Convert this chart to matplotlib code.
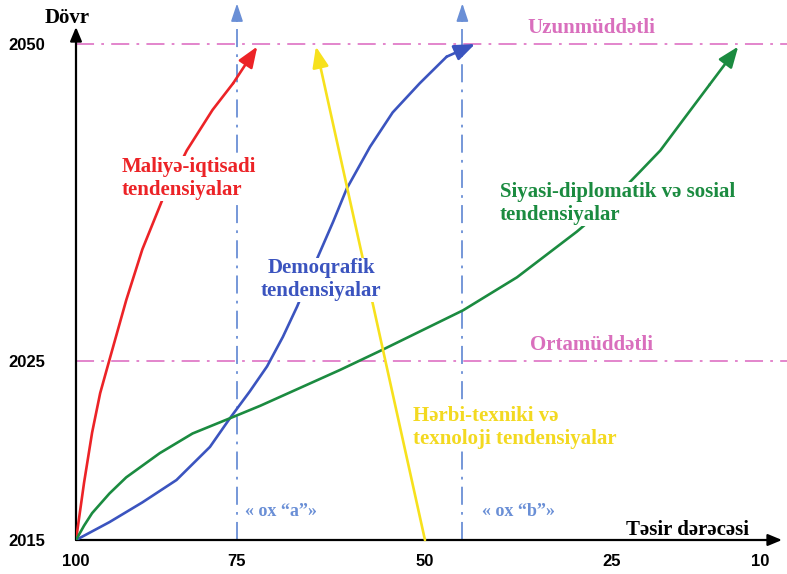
import numpy as np
import matplotlib
matplotlib.use("Agg")
import matplotlib.pyplot as plt

# --- data ---
x_ticks = [100, 75, 50, 25, 10]
y_ticks = [2015, 2025, 2050]

red_x = [100, 98.75, 97.5, 96.25, 94.8, 92.2, 89.7, 86.6, 82.8, 78.8, 75.6, 72.3]
red_y = [2015, 2018.2, 2021.0, 2023.2, 2025.1, 2029.8, 2033.8, 2037.7, 2041.6, 2044.8,
         2046.9, 2049.8]

blue_x = [100, 94.8, 89.7, 84.4, 79.2, 76.1, 73.3, 71.0, 68.9, 67.0, 64.4, 62.2, 60.4,
          57.3, 54.3, 50.7, 47.1, 43.3]
blue_y = [2015, 2016.0, 2017.1, 2018.35, 2020.2, 2021.8, 2023.3, 2024.7, 2026.9, 2029.3,
          2033.0, 2036.0, 2038.6, 2041.9, 2044.6, 2046.9, 2049.0, 2050]

green_x = [100, 98.75, 97.5, 94.8, 92.2, 87.0, 81.9, 76.1, 71.9, 66.6, 61.3, 55.6, 44.9,
           37.7, 29.7, 26.6, 24.2, 22.2, 20.1, 17.8, 15.1, 12.2]
green_y = [2015, 2015.8, 2016.5, 2017.6, 2018.5, 2019.85, 2020.95, 2021.8, 2022.5, 2023.5,
           2024.5, 2025.9, 2029.0, 2031.6, 2035.2, 2036.75, 2038.3, 2039.9, 2041.6, 2044.0,
           2046.8, 2049.8]

yellow_x = [50, 64.5]
yellow_y = [2015, 2049.8]

ox_a, ox_b = 75, 45
horizons = [2025, 2050]

# --- non-uniform axes as in the picture ---
XV = [0, 10, 25, 50, 75, 100]
XP = [782.7, 684, 536, 349, 161, 0]
YV = [2015, 2025, 2050, 2060]
YP = [0, 179, 496, 622.8]

def fx(v):
    return np.interp(v, XV, XP)

def ix(p):
    return np.interp(p, XP[::-1], XV[::-1])

def fy(v):
    return np.interp(v, YV, YP)

def iy(p):
    return np.interp(p, YP, YV)

RED = "#ec2327"
BLUE = "#3b54bf"
GREEN = "#1b8b40"
YELLOW = "#f7e11d"
YTEXT = "#f3d920"
PINK = "#e07cc8"
PTEXT = "#d96fbd"
LBLUE = "#6a8fd6"

serif = ["Liberation Serif", "DejaVu Serif"]

W, H = 787, 574
fig = plt.figure(figsize=(W / 100, H / 100), dpi=100)
ax = fig.add_axes([76 / W, 34 / H, 711 / W, 540 / H])
ax.set_xscale("function", functions=(fx, ix))
ax.set_yscale("function", functions=(fy, iy))
ax.set_xlim(7.26, 100)
ax.set_ylim(2015, 2053.47)
for s in ax.spines.values():
    s.set_visible(False)

ax.set_xticks(x_ticks)
ax.set_xticklabels([str(t) for t in x_ticks], fontweight="bold", fontsize=12,
                   family=["Liberation Sans", "DejaVu Sans"])
ax.set_yticks(y_ticks)
ax.set_yticklabels([str(t) for t in y_ticks], fontweight="bold", fontsize=12,
                   family=["Liberation Sans", "DejaVu Sans"])
ax.tick_params(axis="x", length=0, pad=10)
ax.tick_params(axis="y", length=0, pad=22)

# axes with arrows
ax.annotate("", xy=(0.993, 0), xytext=(0, 0), xycoords="axes fraction",
            arrowprops=dict(arrowstyle="-|>,head_length=0.6,head_width=0.25",
                            color="black", lw=1.6, shrinkA=0, shrinkB=0, mutation_scale=14))
ax.annotate("", xy=(0, 0.95), xytext=(0, 0), xycoords="axes fraction",
            arrowprops=dict(arrowstyle="-|>,head_length=0.6,head_width=0.25",
                            color="black", lw=1.6, shrinkA=0, shrinkB=0, mutation_scale=14))

# horizon lines (pink dash-dot)
for h in horizons:
    ax.axhline(h, color=PINK, lw=1.3, linestyle=(0, (10, 4, 1.5, 4)), zorder=1)

# ox "a" / ox "b" vertical lines with arrow heads
for xv in [ox_a, ox_b]:
    ax.plot([xv, xv], [2015, 2052.2], color=LBLUE, lw=1.3,
            linestyle=(0, (10, 4, 1.5, 4)), zorder=1)
    ax.annotate("", xy=(xv, 2053.2), xytext=(xv, 2051.8),
                arrowprops=dict(arrowstyle="-|>,head_length=0.9,head_width=0.3",
                                color=LBLUE, lw=1.2, shrinkA=0, shrinkB=0, mutation_scale=12))


def curve(xs, ys, color):
    ax.plot(xs[:-1], ys[:-1], color=color, lw=1.9, solid_capstyle="round",
            solid_joinstyle="round", zorder=3)
    ax.annotate("", xy=(xs[-1], ys[-1]), xytext=(xs[-2], ys[-2]),
                arrowprops=dict(arrowstyle="-|>,head_length=0.9,head_width=0.35",
                                color=color, lw=1.9, shrinkA=0, shrinkB=0, mutation_scale=14),
                zorder=3)


curve(red_x, red_y, RED)
curve(blue_x, blue_y, BLUE)
curve(green_x, green_y, GREEN)
curve(yellow_x, yellow_y, YELLOW)

lab = dict(family=serif, fontweight="bold", fontsize=15, zorder=5, linespacing=1.2)
bg = dict(facecolor="white", edgecolor="none", pad=0.5)

ax.text(92.97, 2039.4, "Maliyə-iqtisadi\ntendensiyalar", color=RED, ha="left",
        va="center", bbox=bg, **lab)
ax.text(63.8, 2031.4, "Demoqrafik\ntendensiyalar", color=BLUE, ha="center",
        va="center", multialignment="center", bbox=bg, **lab)
ax.text(40.0, 2037.4, "Siyasi-diplomatik və sosial\ntendensiyalar", color=GREEN,
        ha="left", va="center", bbox=bg, **lab)
ax.text(51.6, 2021.3, "Hərbi-texniki və\ntexnoloji tendensiyalar", color=YTEXT,
        ha="left", va="center", bbox=bg, **lab)

ax.text(27.7, 2051.3, "Uzunmüddətli", color=PTEXT, ha="center", va="center",
        family=serif, fontweight="bold", fontsize=15)
ax.text(27.7, 2026.3, "Ortamüddətli", color=PTEXT, ha="center", va="center",
        family=serif, fontweight="bold", fontsize=15)

ax.text(73.9, 2016.6, "« ox “a”»", color=LBLUE, ha="left", va="center",
        family=serif, fontweight="bold", fontsize=13)
ax.text(42.4, 2016.6, "« ox “b”»", color=LBLUE, ha="left", va="center",
        family=serif, fontweight="bold", fontsize=13)

fig.text(67 / W, 1 - 18 / H, "Dövr", ha="center", va="center",
         family=serif, fontweight="bold", fontsize=15)
fig.text(687 / W, 1 - 530 / H, "Təsir dərəcəsi", ha="center", va="center",
         family=serif, fontweight="bold", fontsize=15)

fig.savefig("out.png", dpi=100)
